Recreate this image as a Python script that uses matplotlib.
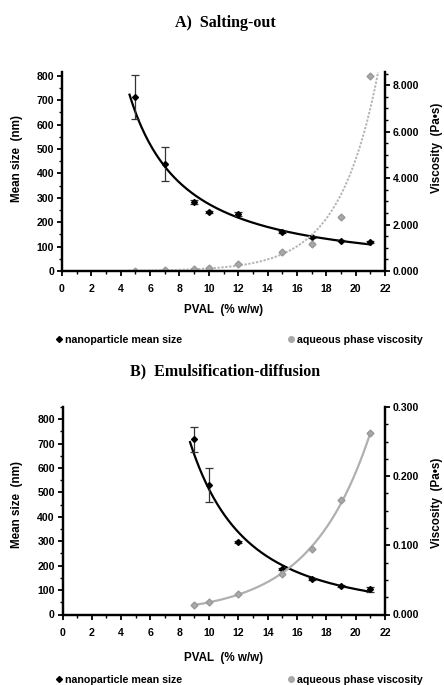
import numpy as np
import matplotlib
matplotlib.use("Agg")
import matplotlib.pyplot as plt
from matplotlib.ticker import MultipleLocator, FormatStrFormatter
from matplotlib.lines import Line2D

# ---------------- data ----------------
# A) Salting-out
a_x = [5, 7, 9, 10, 12, 15, 17, 19, 21]
a_size = [712, 440, 284, 243, 233, 158, 140, 124, 120]
a_size_err = [90, 70, 8, 5, 8, 4, 3, 3, 5]
a_visc = [0.01, 0.04, 0.09, 0.15, 0.29, 0.83, 1.16, 2.34, 8.39]

# B) Emulsification-diffusion
b_x = [9, 10, 12, 15, 17, 19, 21]
b_size = [717, 530, 296, 187, 146, 118, 103]
b_size_err = [50, 70, 5, 5, 4, 4, 10]
b_visc = [0.0133, 0.0186, 0.029, 0.0587, 0.095, 0.166, 0.263]

xticks = list(range(0, 23, 2))

plt.rcParams['font.family'] = ['Liberation Sans', 'DejaVu Sans']

W, H = 444, 685
fig = plt.figure(figsize=(W / 100, H / 100), dpi=100)


def fx(px):
    return px / W


def fy(py):
    return 1 - py / H


def power_fit(x, y, xs):
    b, a = np.polyfit(np.log(x), np.log(y), 1)
    return np.exp(a) * xs ** b


def exp_fit(x, y, xs):
    b, a = np.polyfit(np.asarray(x, float), np.log(y), 1)
    return np.exp(a) * np.exp(b * xs)


def style_axes(ax, ax2, ymax_left, ymax_right, rmajor, rminor):
    ax.set_xlim(0, 22)
    ax.set_ylim(0, ymax_left)
    ax2.set_ylim(0, ymax_right)
    ax.set_xticks(xticks)
    ax.xaxis.set_minor_locator(MultipleLocator(1))
    ax.yaxis.set_major_locator(MultipleLocator(100))
    ax.yaxis.set_minor_locator(MultipleLocator(50))
    ax2.yaxis.set_major_locator(MultipleLocator(rmajor))
    ax2.yaxis.set_minor_locator(MultipleLocator(rminor))
    ax2.yaxis.set_major_formatter(FormatStrFormatter('%.3f'))
    for a in (ax, ax2):
        a.spines['top'].set_visible(False)
        for s in ('left', 'right', 'bottom'):
            a.spines[s].set_linewidth(1.6)
        a.tick_params(which='major', direction='out', length=3.5, width=1.3,
                      labelsize=7.6, pad=2)
        a.tick_params(which='minor', direction='out', length=2.2, width=1.0)
        for lab in a.get_xticklabels() + a.get_yticklabels():
            lab.set_fontweight('bold')
    ax.tick_params(axis='x', pad=6)


# ---------------- Panel A ----------------
axA = fig.add_axes([fx(62), fy(271), fx(385) - fx(62), fy(72) - fy(271)])
axA2 = axA.twinx()
xs = np.linspace(4.6, 21, 200)
axA.plot(xs, power_fit(a_x, a_size, xs), color='black', lw=1.6, zorder=3)
axA.errorbar(a_x, a_size, yerr=a_size_err, fmt='D', color='black', ms=3,
             elinewidth=0.9, capsize=3, capthick=0.9, ecolor='#333333', zorder=4)
xv = np.linspace(4.5, 21.6, 200)
axA2.plot(xv, exp_fit(a_x, a_visc, xv), color='#b5b5b5', lw=1.4,
          linestyle=(0, (1.2, 0.8)))
axA2.plot(a_x, a_visc, 'D', color='#a8a8a8', ms=3.5, mec='#999999')
style_axes(axA, axA2, 816, 8.57, 2, 0.5)

# ---------------- Panel B ----------------
axB = fig.add_axes([fx(62.5), fy(614.5), fx(385) - fx(62.5), fy(407) - fy(614.5)])
axB2 = axB.twinx()
xs = np.linspace(8.7, 21, 200)
axB.plot(xs, power_fit(b_x, b_size, xs), color='black', lw=1.6, zorder=3)
axB.errorbar(b_x, b_size, yerr=b_size_err, fmt='D', color='black', ms=3,
             elinewidth=0.9, capsize=3, capthick=0.9, ecolor='#333333', zorder=4)
xv = np.linspace(9, 21, 200)
axB2.plot(xv, exp_fit(b_x, b_visc, xv), color='#b0b0b0', lw=1.6)
axB2.plot(b_x, b_visc, 'D', color='#a8a8a8', ms=3.5, mec='#999999')
style_axes(axB, axB2, 850, 0.3, 0.1, 0.025)

# ---------------- texts ----------------
tfont = dict(family=['Liberation Serif', 'DejaVu Serif'], fontweight='bold', fontsize=11.5)
fig.text(fx(225), fy(23), 'A)  Salting-out', ha='center', va='center', **tfont)
fig.text(fx(225), fy(371), 'B)  Emulsification-diffusion', ha='center', va='center', **tfont)

lfont = dict(fontsize=8.4, fontweight='bold')
fig.text(fx(224), fy(310), 'PVAL  (% w/w)', ha='center', va='center', **lfont)
fig.text(fx(224), fy(658), 'PVAL  (% w/w)', ha='center', va='center', **lfont)
fig.text(fx(17), fy(158), 'Mean size  (nm)', ha='center', va='center', rotation=90, **lfont)
fig.text(fx(17), fy(505), 'Mean size  (nm)', ha='center', va='center', rotation=90, **lfont)
fig.text(fx(437), fy(148), 'Viscosity  (Pa\u2022s)', ha='center', va='center', rotation=90, **lfont)
fig.text(fx(437), fy(503), 'Viscosity  (Pa\u2022s)', ha='center', va='center', rotation=90, **lfont)

for ly in (340, 680):
    h1 = Line2D([], [], marker='D', color='black', ls='none', ms=3)
    h2 = Line2D([], [], marker='o', color='#a8a8a8', ls='none', ms=4)
    fig.legend([h1], ['nanoparticle mean size'], loc='center left',
               bbox_to_anchor=(fx(50), fy(ly)), frameon=False,
               handlelength=0.6, handletextpad=0.3, borderpad=0,
               prop=dict(size=7.7, weight='bold'))
    fig.legend([h2], ['aqueous phase viscosity'], loc='center left',
               bbox_to_anchor=(fx(282), fy(ly)), frameon=False,
               handlelength=0.6, handletextpad=0.3, borderpad=0,
               prop=dict(size=7.7, weight='bold'))

fig.savefig('out.png', dpi=100)
